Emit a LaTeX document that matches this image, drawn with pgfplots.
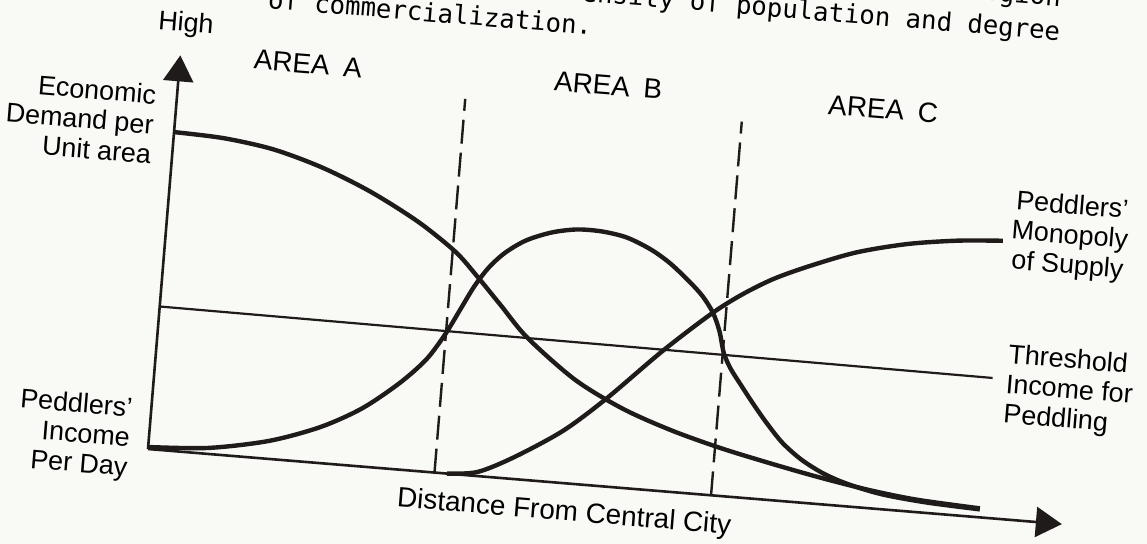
\documentclass[border=0pt]{standalone}
\usepackage{pgfplots}
\pgfplotsset{compat=1.18}
\usetikzlibrary{arrows.meta}
\usepackage{fontspec}
\setmainfont{Liberation Sans}
\newfontfamily\monofont{DejaVu Sans Mono}
\definecolor{ink}{RGB}{32,27,27}
\definecolor{paper}{RGB}{249,249,246}

\begin{document}
\begin{tikzpicture}
\fill[paper] (-74bp,-47.5bp) rectangle (499.5bp,224.5bp);
\begin{axis}[
  at={(0,0)}, anchor=origin,
  rotate around={-4.7:(0,0)},
  x=0.5bp, y=0.5bp,
  xmin=0, xmax=917, ymin=0, ymax=395,
  axis lines=left,
  axis line style={ink, line width=1.3bp, -{Triangle[width=15bp,length=13bp]}},
  ticks=none,
  clip=false,
  font=\fontsize{13.5}{15}\selectfont,
  every node/.append style={text=ink},
]
% Economic demand per unit area
\addplot[ink, line width=2.2bp, smooth, tension=0.5] coordinates {
 (0,318) (50,316) (100,309) (150,295) (200,275) (250,249) (290,222) (314,199)
 (340,172) (369,142) (420,104) (470,79) (520,61.5) (570,48) (620,37) (670,27)
 (720,18.5) (770,12.5) (834,9)};
% Peddlers' income per day (hump)
\addplot[ink, line width=2.2bp, smooth, tension=0.5] coordinates {
 (0,2) (60,6) (120,18) (170,36) (210,58) (245,86) (270,112) (287,139) (300,165)
 (312,189) (325,209) (340,225) (360,239) (385,249) (410,254) (435,254) (460,250)
 (485,240) (505,228) (525,212) (540,198) (552,182) (560,164) (566,143) (574,128)
 (586,112) (600,94) (615,76) (632,58) (652,43) (675,31) (700,22.5) (735,15)
 (780,10.5) (834,8)};
% Peddlers' monopoly of supply
\addplot[ink, line width=2.2bp, smooth, tension=0.5] coordinates {
 (300,0) (330,4) (365,21.5) (412,52) (453,88) (505,140) (551,181.4) (580,203)
 (610,221) (645,236.8) (690,254) (740,266.5) (790,274) (835,277.6)};
% Threshold income for peddling
\addplot[ink, line width=1.1bp] coordinates {(0,143) (836,140)};
% Area boundaries
\addplot[ink, line width=1.2bp, dash pattern=on 12bp off 4.5bp] coordinates {(287.5,0) (287.5,375)};
\addplot[ink, line width=1.2bp, dash pattern=on 12bp off 4.5bp] coordinates {(565,0) (565,375)};

\node[rotate=-4.7] at (axis cs:3,426) {High};
\node[rotate=-4.7, font=\fontsize{14}{15}\selectfont] at (axis cs:128,397) {AREA\hspace{3bp} A};
\node[rotate=-4.7, font=\fontsize{14}{15}\selectfont] at (axis cs:429,400) {AREA\hspace{3bp} B};
\node[rotate=-4.7, font=\fontsize{14}{15}\selectfont] at (axis cs:705,399) {AREA\hspace{3bp} C};
\node[rotate=-4.7, anchor=east, align=right] at (axis cs:-14,324) {Economic\\Demand per\\Unit area};
\node[rotate=-4.7, anchor=east, align=right] at (axis cs:-12,8) {Peddlers'\\Income\\Per Day};
\node[rotate=-4.7, anchor=west, align=center] at (axis cs:836,287) {Peddlers'\\Monopoly\\of Supply};
\node[rotate=-4.7, anchor=west, align=left] at (axis cs:843,133) {Threshold\\Income for\\Peddling};
\node[rotate=-4.7, font=\fontsize{14}{15}\selectfont] at (axis cs:420,-30) {Distance From Central City};
% caption (cut off by the top of the page)
\node[rotate=-4.7, anchor=base east, font=\monofont\fontsize{12.9}{13}\selectfont] at (axis cs:880,516) {Region};
\node[rotate=-4.7, anchor=base east, font=\monofont\fontsize{12.9}{13}\selectfont] at (axis cs:882,482) {density of population and degree};
\node[rotate=-4.7, anchor=base west, font=\monofont\fontsize{12.9}{13}\selectfont] at (axis cs:76,449) {of commercialization.};
\end{axis}
\pgfresetboundingbox
\path[use as bounding box] (-74bp,-47.5bp) rectangle (499.5bp,224.5bp);
\end{tikzpicture}
\end{document}
